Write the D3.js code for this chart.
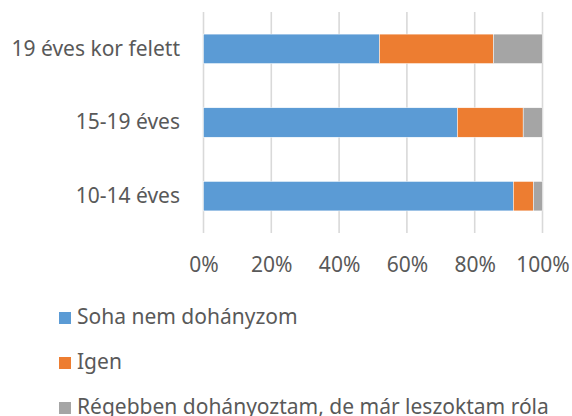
<!DOCTYPE html>
<html>
<head>
<meta charset="utf-8">
<script src="https://cdn.jsdelivr.net/npm/d3@7"></script>
<style>
  body { margin: 0; background: #fff; }
  text { font-family: "Noto Sans", "Open Sans", sans-serif; fill: #595959; }
</style>
</head>
<body>
<div id="chart"></div>
<script>
// age groups, top to bottom
var categories = ["19 éves kor felett", "15-19 éves", "10-14 éves"];
var seriesNames = ["Soha nem dohányzom", "Igen", "Régebben dohányoztam, de már leszoktam róla"];
var soha = [51.9, 74.9, 91.4];
var igen = [33.6, 19.4, 5.9];
var regebben = [14.5, 5.7, 2.7];
var tickValues = [0, 0.2, 0.4, 0.6, 0.8, 1];
var colors = ["#5B9BD5", "#ED7D31", "#A5A5A5"];

var svgWidth = 572;
var svgHeight = 416;

var svg = d3.select("#chart")
  .append("svg")
  .attr("width", svgWidth)
  .attr("height", svgHeight);

var rows = categories.map(function(c, i) {
  return { cat: c, s0: soha[i], s1: igen[i], s2: regebben[i] };
});

var stack = d3.stack()
  .keys(["s0", "s1", "s2"])
  .offset(d3.stackOffsetExpand);
var layers = stack(rows);

var x = d3.scaleLinear()
  .domain([0, 1])
  .range([203.5, 542.5]);

var y = d3.scaleBand()
  .domain(categories)
  .range([12, 233])
  .paddingInner(0.6)
  .paddingOuter(0.3);

// gridlines
svg.append("g")
  .selectAll("line")
  .data(tickValues)
  .enter()
  .append("line")
  .attr("x1", d => x(d))
  .attr("x2", d => x(d))
  .attr("y1", 12)
  .attr("y2", 233)
  .attr("stroke", "#d9d9d9")
  .attr("stroke-width", 1.6);

// bars
var layerGroup = svg.append("g")
  .selectAll("g")
  .data(layers)
  .enter()
  .append("g")
  .attr("fill", (d, i) => colors[i]);

layerGroup.selectAll("rect")
  .data(d => d)
  .enter()
  .append("rect")
  .attr("x", d => x(d[0]))
  .attr("width", d => x(d[1]) - x(d[0]))
  .attr("y", d => y(d.data.cat))
  .attr("height", y.bandwidth())
  .attr("stroke", "#fff")
  .attr("stroke-width", 0.5);

// x axis labels
var xAxis = d3.axisBottom(x)
  .tickValues(tickValues)
  .tickFormat(d3.format(".0%"))
  .tickSize(0)
  .tickPadding(0);

var xg = svg.append("g")
  .attr("transform", "translate(0, 257)")
  .call(xAxis);
xg.select(".domain").remove();
xg.selectAll("text")
  .attr("dy", "0.71em")
  .attr("font-size", 21)
  .attr("font-family", null)
  .attr("fill", null);

// y axis labels
var yAxis = d3.axisLeft(y)
  .tickSize(0)
  .tickPadding(0);

var yg = svg.append("g")
  .attr("transform", "translate(180, 0)")
  .call(yAxis);
yg.select(".domain").remove();
yg.selectAll("text")
  .attr("font-size", 21)
  .attr("font-family", null)
  .attr("fill", null);

// legend
var legend = svg.append("g")
  .selectAll("g")
  .data(seriesNames)
  .enter()
  .append("g")
  .attr("transform", (d, i) => `translate(0, ${324 + i * 45})`);

legend.append("rect")
  .attr("x", 59)
  .attr("y", -12)
  .attr("width", 12)
  .attr("height", 12)
  .attr("fill", (d, i) => colors[i]);

legend.append("text")
  .attr("x", 77)
  .attr("y", 0)
  .attr("font-size", 21)
  .text(d => d);
</script>
</body>
</html>
